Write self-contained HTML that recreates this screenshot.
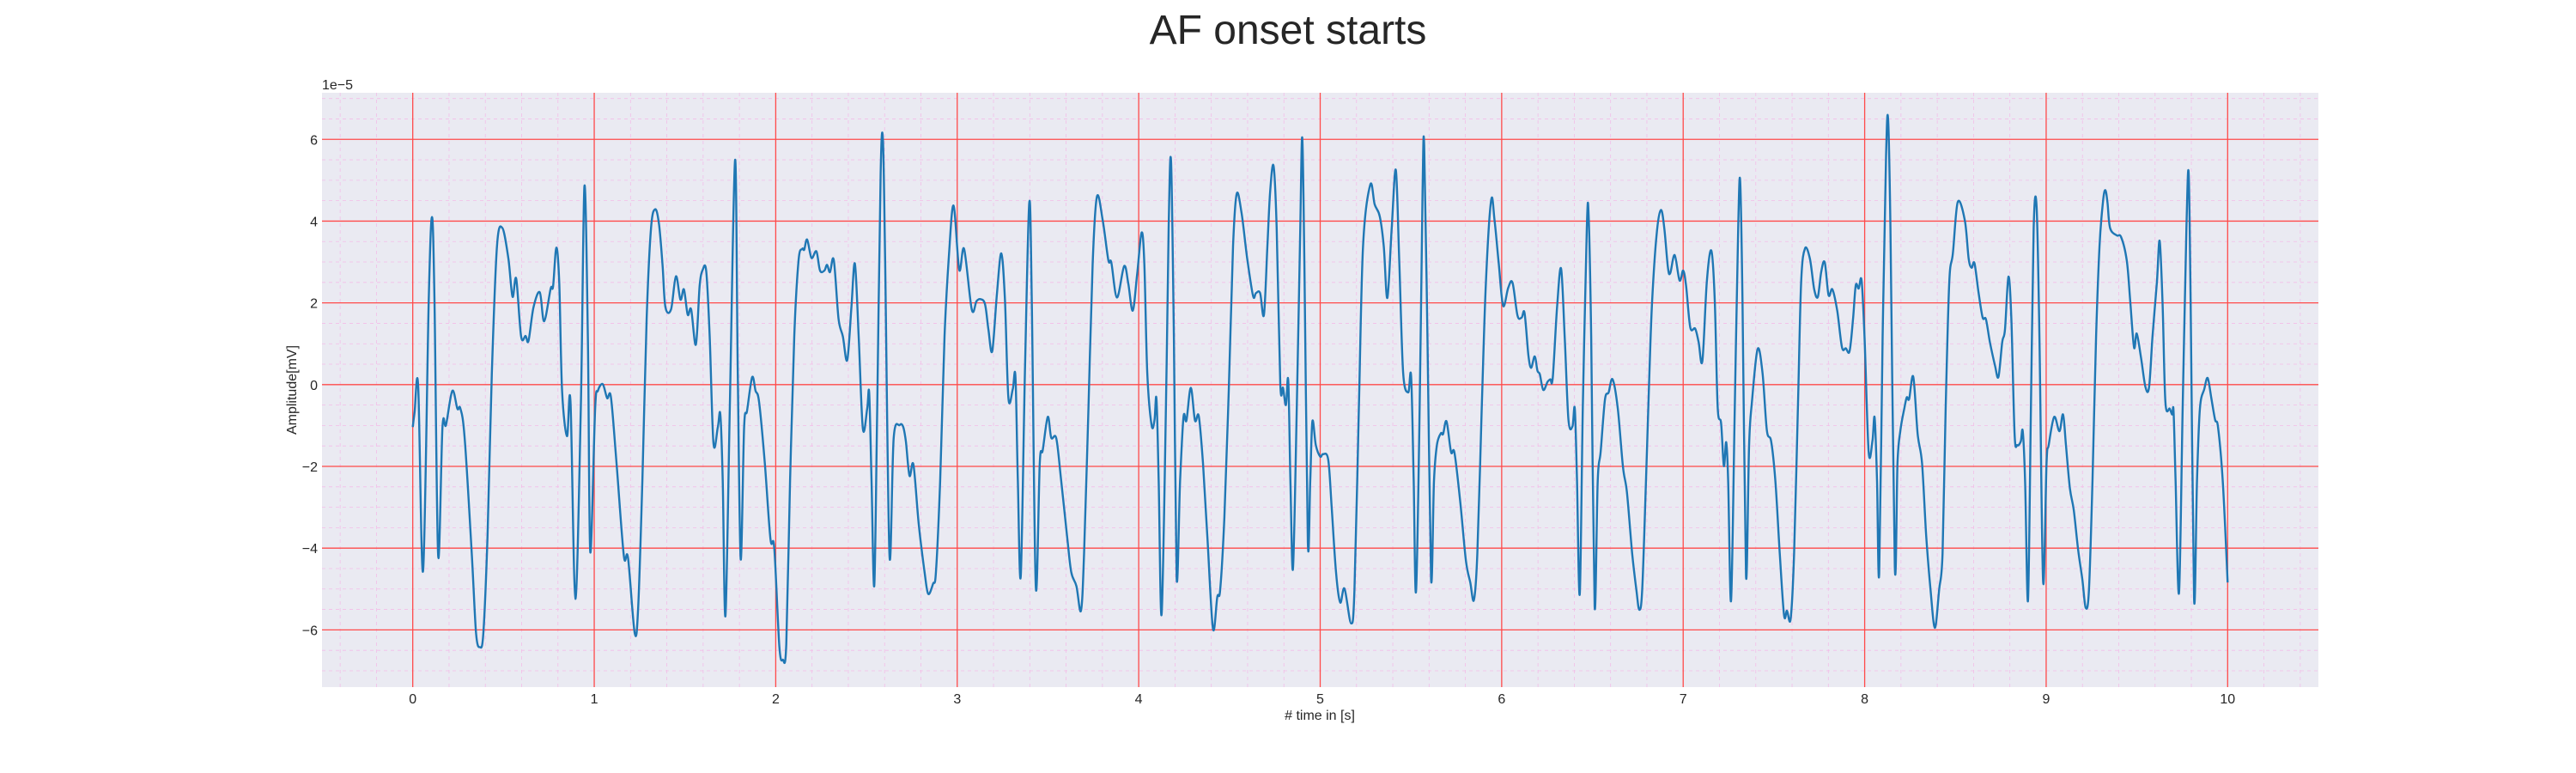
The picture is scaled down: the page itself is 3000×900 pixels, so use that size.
<!DOCTYPE html>
<html><head><meta charset="utf-8"><style>
html,body{margin:0;padding:0;background:#fff;}
svg{display:block;font-family:"Liberation Sans",sans-serif;}
</style></head><body>
<svg id="chart" width="3000" height="900" viewBox="0 0 3000 900">
<text x="1500" y="51" text-anchor="middle" font-size="48" fill="#262626">AF onset starts</text>
<rect x="375" y="108" width="2325" height="692" fill="#EAEAF2"/>
<g id="grid"></g>
<g id="ticks"></g>
<clipPath id="clip"><rect x="375" y="108" width="2325" height="692"/></clipPath>
<path id="sig" fill="none" stroke="#1f77b4" stroke-width="2.4" stroke-linejoin="round" clip-path="url(#clip)"/>
<text x="375" y="104" font-size="16" fill="#262626">1e−5</text>
<text x="1537" y="838" text-anchor="middle" font-size="16" fill="#262626"># time in [s]</text>
<text transform="translate(345,454) rotate(-90)" text-anchor="middle" font-size="16" fill="#262626">Amplitude[mV]</text>
</svg>
<script>
const xTicks=[0,1,2,3,4,5,6,7,8,9,10];
const yTicks=[-6,-4,-2,0,2,4,6];
const tSec=[0,.01,.03,.057,.088,.106,.12,.14,.164,.183,.218,.246,.262,.286,.325,.349,.37,.389,.412,.436,.464,.494,.527,.55,.57,.597,.622,.638,.665,.7,.724,.76,.773,.791,.807,.823,.85,.869,.896,.926,.946,.965,.978,1.005,1.02,1.047,1.071,1.092,1.123,1.163,1.186,1.223,1.242,1.265,1.289,1.313,1.336,1.357,1.376,1.392,1.423,1.45,1.475,1.494,1.515,1.534,1.56,1.581,1.598,1.617,1.636,1.657,1.681,1.695,1.708,1.723,1.747,1.776,1.791,1.807,1.826,1.842,1.87,1.889,1.908,1.94,1.971,1.992,2.02,2.039,2.058,2.079,2.102,2.126,2.146,2.157,2.173,2.197,2.224,2.244,2.268,2.283,2.299,2.32,2.346,2.37,2.394,2.417,2.436,2.457,2.48,2.504,2.515,2.528,2.543,2.559,2.578,2.591,2.603,2.627,2.65,2.683,2.702,2.717,2.737,2.759,2.788,2.82,2.84,2.867,2.883,2.906,2.93,2.954,2.98,3.011,3.038,3.08,3.106,3.128,3.153,3.172,3.193,3.219,3.243,3.263,3.282,3.306,3.321,3.334,3.35,3.373,3.397,3.411,3.433,3.455,3.471,3.499,3.518,3.546,3.573,3.605,3.628,3.657,3.682,3.699,3.723,3.746,3.77,3.802,3.833,3.849,3.88,3.92,3.943,3.967,3.991,4.016,4.031,4.047,4.071,4.087,4.098,4.11,4.126,4.15,4.165,4.178,4.194,4.209,4.228,4.247,4.263,4.287,4.31,4.331,4.354,4.378,4.409,4.433,4.449,4.472,4.496,4.52,4.54,4.567,4.598,4.63,4.646,4.669,4.69,4.709,4.724,4.743,4.76,4.78,4.795,4.811,4.824,4.836,4.85,4.871,4.89,4.901,4.913,4.932,4.945,4.957,4.976,5.0,5.016,5.044,5.063,5.087,5.11,5.134,5.17,5.189,5.213,5.236,5.276,5.3,5.328,5.35,5.37,5.394,5.417,5.436,5.457,5.485,5.501,5.515,5.528,5.548,5.564,5.573,5.591,5.611,5.627,5.643,5.665,5.677,5.696,5.721,5.74,5.772,5.803,5.827,5.847,5.866,5.89,5.913,5.942,5.961,5.984,6.008,6.036,6.06,6.087,6.11,6.126,6.147,6.162,6.182,6.197,6.21,6.229,6.253,6.268,6.281,6.305,6.327,6.347,6.368,6.39,6.403,6.415,6.43,6.447,6.469,6.479,6.493,6.512,6.529,6.545,6.569,6.589,6.611,6.64,6.668,6.69,6.719,6.742,6.758,6.774,6.795,6.814,6.829,6.853,6.877,6.896,6.916,6.929,6.953,6.98,7.0,7.016,7.039,7.066,7.085,7.106,7.13,7.155,7.174,7.19,7.209,7.224,7.237,7.248,7.264,7.284,7.303,7.314,7.327,7.346,7.363,7.379,7.41,7.437,7.461,7.485,7.508,7.532,7.556,7.572,7.592,7.611,7.632,7.65,7.671,7.698,7.722,7.742,7.761,7.78,7.801,7.822,7.849,7.875,7.896,7.917,7.936,7.951,7.967,7.983,7.999,8.022,8.043,8.055,8.068,8.08,8.099,8.118,8.129,8.142,8.166,8.181,8.197,8.218,8.232,8.245,8.268,8.292,8.316,8.339,8.363,8.387,8.41,8.429,8.446,8.466,8.486,8.513,8.552,8.573,8.589,8.605,8.628,8.65,8.668,8.69,8.718,8.737,8.758,8.773,8.792,8.808,8.826,8.841,8.86,8.871,8.884,8.9,8.916,8.931,8.947,8.963,8.983,9.002,9.014,9.044,9.073,9.093,9.109,9.131,9.152,9.176,9.199,9.218,9.236,9.255,9.275,9.294,9.313,9.326,9.338,9.352,9.389,9.413,9.444,9.463,9.484,9.499,9.523,9.547,9.567,9.586,9.61,9.625,9.641,9.657,9.681,9.694,9.702,9.713,9.732,9.752,9.773,9.785,9.796,9.815,9.831,9.847,9.871,9.89,9.91,9.931,9.947,9.973,10.0];
const amp=[-1.04,-.68,-.04,-4.56,2.06,4.10,2.06,-4.19,-1.04,-.99,-.15,-.59,-.58,-1.30,-4.13,-6.08,-6.42,-6.08,-3.69,.29,3.39,3.83,3.08,2.15,2.59,1.18,1.19,1.07,1.88,2.26,1.55,2.35,2.40,3.35,2.50,-.15,-1.26,-.42,-5.24,-.59,4.85,1.18,-4.09,-.59,-.15,.01,-.33,-.31,-1.92,-4.18,-4.24,-6.08,-5.46,-2.36,1.62,3.83,4.29,3.92,2.95,1.90,1.84,2.65,2.08,2.33,1.71,1.84,.98,2.42,2.81,2.77,1.18,-1.43,-1.04,-.73,-2.36,-5.65,-.59,5.50,.29,-4.27,-1.04,-.64,.18,-.15,-.42,-1.92,-3.78,-4.00,-6.40,-6.73,-6.35,-2.36,1.18,3.04,3.32,3.30,3.55,3.10,3.26,2.79,2.79,2.93,2.75,3.05,1.62,1.18,.60,1.88,2.96,1.18,-1.08,-.59,-.21,-2.36,-4.91,-.59,5.16,5.97,2.95,-4.18,-1.30,-.99,-1.03,-1.39,-2.23,-1.96,-3.42,-4.58,-5.12,-4.87,-4.58,-2.36,1.18,3.12,4.38,2.81,3.32,1.84,2.04,2.09,1.97,1.35,.82,2.24,3.21,2.06,-.33,-.11,.19,-2.36,-4.68,.29,4.45,2.06,-4.95,-1.92,-1.61,-.79,-1.30,-1.32,-2.36,-3.69,-4.58,-4.93,-5.53,-4.13,-.59,2.95,4.60,4.01,3.04,2.99,2.13,2.90,2.46,1.81,2.68,3.72,2.95,.29,-.99,-.87,-.35,-2.36,-5.62,-.59,3.83,5.47,1.18,-4.73,-2.36,-.79,-.88,-.08,-.88,-.77,-1.92,-3.69,-5.97,-5.19,-5.02,-3.25,-.15,3.39,4.67,4.19,3.08,2.17,2.24,2.24,1.71,3.39,4.72,5.35,3.83,.03,-.08,-.50,.10,-2.36,-4.50,-.59,3.83,6.04,2.95,-3.85,-2.36,-.90,-1.48,-1.76,-1.70,-1.83,-2.98,-4.58,-5.33,-4.99,-5.84,-5.02,-.59,3.39,4.89,4.41,4.12,3.39,2.12,3.83,5.25,2.95,.29,-.19,.20,-2.36,-5.06,-.59,4.72,5.85,1.18,-4.75,-2.36,-1.48,-1.19,-1.21,-.90,-1.65,-1.67,-2.89,-4.31,-4.84,-5.27,-4.13,-.59,2.50,4.51,4.01,2.95,1.93,2.37,2.49,1.69,1.64,1.75,.73,.41,.69,.34,.25,-.13,.07,.13,.16,1.88,2.84,1.18,-.86,-1.02,-.59,-2.36,-5.12,-.59,3.83,4.14,1.18,-5.42,-2.36,-1.65,-.37,-.19,.13,-.59,-2.01,-2.63,-4.13,-5.02,-5.51,-5.02,-2.36,.29,2.06,3.65,4.27,3.83,2.86,2.73,3.17,2.55,2.79,2.42,1.40,1.37,1.04,.58,2.50,3.28,2.06,-.55,-.95,-1.99,-1.41,-2.36,-5.28,-.59,3.83,4.98,2.06,-4.68,-1.48,-.42,.87,.29,-1.12,-1.39,-2.36,-4.13,-5.64,-5.53,-5.73,-4.13,-.59,2.50,3.33,3.08,2.33,2.15,2.77,2.99,2.19,2.33,1.80,.91,.89,.82,1.62,2.43,2.35,2.55,1.18,-1.64,-1.37,-.81,-2.36,-4.62,1.18,5.60,6.49,3.83,-4.46,-1.92,-1.12,-.59,-.31,-.35,.19,-1.21,-1.92,-3.69,-5.02,-5.95,-5.02,-4.13,-.59,2.50,3.21,4.47,4.01,3.08,2.86,2.97,2.24,1.64,1.60,1.04,.47,.19,1.04,1.35,2.64,1.62,-1.21,-1.48,-1.39,-1.14,-2.36,-5.28,-.59,3.83,4.36,1.18,-4.82,-1.92,-1.48,-.79,-1.14,-.73,-1.48,-2.54,-3.07,-4.04,-4.75,-5.46,-5.02,-2.36,1.18,3.39,4.47,4.76,4.45,3.83,3.65,3.61,3.04,2.06,.91,1.25,.65,-.06,-.06,1.18,2.50,3.52,2.06,-.42,-.59,-.73,-.65,-2.36,-5.09,-.59,3.83,5.18,2.06,-5.24,-2.36,-.59,-.11,.16,-.33,-.86,-1.04,-2.36,-4.84];

const X0=375,X1=2700,Y0=108,Y1=800,XMIN=-0.5,XMAX=10.5,YMIN=-7.40,YMAX=7.14;
function sx(t){return X0+(t-XMIN)/(XMAX-XMIN)*(X1-X0);}
function sy(v){return Y1-(v-YMIN)/(YMAX-YMIN)*(Y1-Y0);}
const NS='http://www.w3.org/2000/svg';
const grid=document.getElementById('grid'),ticks=document.getElementById('ticks');
function line(parent,x1,y1,x2,y2,stroke,w,dash){const l=document.createElementNS(NS,'line');
l.setAttribute('x1',x1);l.setAttribute('y1',y1);l.setAttribute('x2',x2);l.setAttribute('y2',y2);
l.setAttribute('stroke',stroke);l.setAttribute('stroke-width',w);if(dash)l.setAttribute('stroke-dasharray',dash);
parent.appendChild(l);return l;}
for(let i=-2;i<=52;i++){const t=i*0.2;if(Math.abs(t-Math.round(t))<1e-6)continue;
const l=line(grid,sx(t),Y0,sx(t),Y1,'#f3bde8',0.8,'4,4');

}
for(let i=-14;i<=14;i++){const v=i*0.5;if(Math.abs(v/2-Math.round(v/2))<1e-6)continue;
const l=line(grid,X0,sy(v),X1,sy(v),'#f3bde8',0.8,'4,4');

}
xTicks.forEach(t=>{const l=line(grid,sx(t),Y0,sx(t),Y1,'#ff4a4a',1.3);


const tx=document.createElementNS(NS,'text');tx.setAttribute('x',sx(t));tx.setAttribute('y',819);
tx.setAttribute('text-anchor','middle');tx.setAttribute('font-size','16');tx.setAttribute('fill','#262626');tx.textContent=t;


ticks.appendChild(tx);});
yTicks.forEach(v=>{const l=line(grid,X0,sy(v),X1,sy(v),'#ff4a4a',1.3);


const tx=document.createElementNS(NS,'text');tx.setAttribute('x',370);tx.setAttribute('y',sy(v)+6);
tx.setAttribute('text-anchor','end');tx.setAttribute('font-size','16');tx.setAttribute('fill','#262626');tx.textContent=(v<0?'−'+(-v):v);


ticks.appendChild(tx);});
const P=tSec.map((t,i)=>[sx(t),sy(amp[i])]);
let d='M'+P[0][0].toFixed(1)+','+P[0][1].toFixed(1);
for(let i=0;i<P.length-1;i++){const p0=P[Math.max(i-1,0)],p1=P[i],p2=P[i+1],p3=P[Math.min(i+2,P.length-1)];
const k=1/6;
const c1=[p1[0]+(p2[0]-p0[0])*k,p1[1]+(p2[1]-p0[1])*k],c2=[p2[0]-(p3[0]-p1[0])*k,p2[1]-(p3[1]-p1[1])*k];
d+=' C'+c1[0].toFixed(1)+','+c1[1].toFixed(1)+' '+c2[0].toFixed(1)+','+c2[1].toFixed(1)+' '+p2[0].toFixed(1)+','+p2[1].toFixed(1);}
document.getElementById('sig').setAttribute('d',d);
</script>
</body></html>
